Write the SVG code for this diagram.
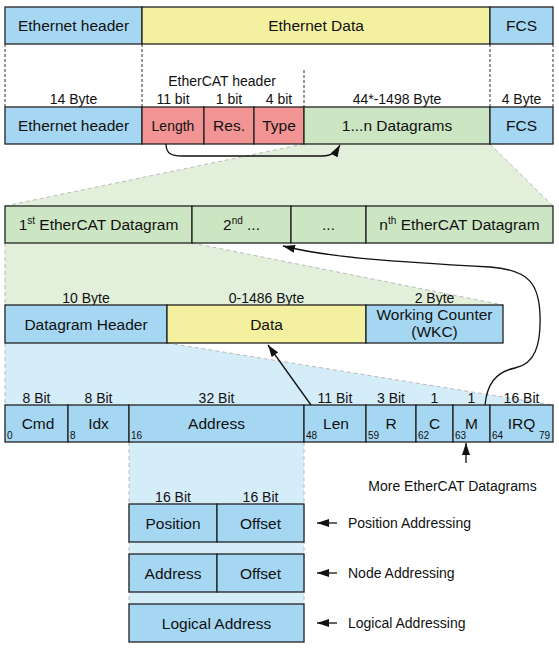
<svg xmlns="http://www.w3.org/2000/svg" width="559" height="653" viewBox="0 0 559 653">
<style>
text{font-family:"Liberation Sans",Arial,sans-serif;fill:#111;text-anchor:middle}
.b{fill:#a6d7f2;stroke:#222;stroke-width:1.3}
.y{fill:#f3f0a0;stroke:#222;stroke-width:1.3}
.p{fill:#f29494;stroke:#222;stroke-width:1.3}
.g{fill:#cce5c3;stroke:#222;stroke-width:1.3}
.t{font-size:15.5px}
.s{font-size:14px}
.n{font-size:10px;text-anchor:start}
.dd{stroke:#333;stroke-width:1;stroke-dasharray:3 2;fill:none}
.dl{stroke:#bbb;stroke-width:1;stroke-dasharray:4 3;fill:none}
.c{stroke:#111;stroke-width:1.3;fill:none}
</style>
<defs>
<marker id="ah" viewBox="0 0 12 8" refX="12" refY="4" markerWidth="12" markerHeight="8" markerUnits="userSpaceOnUse" orient="auto">
<path d="M0,0 L12,4 L0,8 Z" fill="#111"/>
</marker>
</defs>
<g id="backgrounds">
<polygon points="304,144 490,144 553,206 5,206" fill="#e2efda"/>
<polygon points="5,243 192,243 503,305 5,305" fill="#e2efda"/>
<polygon points="5,343 167,343 553,405 5,405" fill="#d5ecf9"/>
<rect x="129" y="442" width="175" height="162" fill="#d5ecf9"/>
<line class="dl" x1="304" y1="144" x2="5" y2="206"/>
<line class="dl" x1="490" y1="144" x2="553" y2="206"/>
<line class="dl" x1="5" y1="243" x2="5" y2="305"/>
<line class="dl" x1="192" y1="243" x2="503" y2="305"/>
<line class="dl" x1="5" y1="343" x2="5" y2="405"/>
<line class="dl" x1="167" y1="343" x2="553" y2="405"/>
<line class="dl" x1="129" y1="442" x2="129" y2="604"/>
<line class="dl" x1="304" y1="442" x2="304" y2="604"/>
<line class="dd" x1="5" y1="44" x2="5" y2="107"/>
<line class="dd" x1="142" y1="44" x2="142" y2="107"/>
<line class="dd" x1="490" y1="44" x2="490" y2="107"/>
<line class="dd" x1="553" y1="44" x2="553" y2="107"/>
<line class="dd" x1="304" y1="70" x2="304" y2="107"/>
</g>
<g id="frame">
<rect class="b" x="5" y="7" width="137" height="37"/><text class="t" x="73.5" y="31">Ethernet header</text>
<rect class="y" x="142" y="7" width="348" height="37"/><text class="t" x="316" y="31">Ethernet Data</text>
<rect class="b" x="490" y="7" width="63" height="37"/><text class="t" x="521.5" y="31">FCS</text>
</g>
<g id="ecat-frame">
<text class="s" x="222" y="86">EtherCAT header</text>
<text class="s" x="73.5" y="104">14 Byte</text>
<text class="s" x="173" y="104">11 bit</text>
<text class="s" x="229" y="104">1 bit</text>
<text class="s" x="279" y="104">4 bit</text>
<text class="s" x="397" y="104">44*-1498 Byte</text>
<text class="s" x="521.5" y="104">4 Byte</text>
<rect class="b" x="5" y="107" width="137" height="37"/><text class="t" x="73.5" y="131">Ethernet header</text>
<rect class="p" x="142" y="107" width="62" height="37"/><text x="173" y="131" font-size="14px">Length</text>
<rect class="p" x="204" y="107" width="50" height="37"/><text class="t" x="229" y="131">Res.</text>
<rect class="p" x="254" y="107" width="50" height="37"/><text class="t" x="279" y="131">Type</text>
<rect class="g" x="304" y="107" width="186" height="37"/><text class="t" x="397" y="131">1...n Datagrams</text>
<rect class="b" x="490" y="107" width="63" height="37"/><text class="t" x="521.5" y="131">FCS</text>
</g>
<g id="datagrams">
<rect class="g" x="5" y="206" width="187" height="37"/><text class="t" x="98.5" y="230">1<tspan font-size="10px" dy="-6">st</tspan><tspan dy="6"> EtherCAT Datagram</tspan></text>
<rect class="g" x="192" y="206" width="99" height="37"/><text class="t" x="241.5" y="230">2<tspan font-size="10px" dy="-6">nd</tspan><tspan dy="6"> ...</tspan></text>
<rect class="g" x="291" y="206" width="75" height="37"/><text class="t" x="328.5" y="230">...</text>
<rect class="g" x="366" y="206" width="187" height="37"/><text class="t" x="459.5" y="230">n<tspan font-size="10px" dy="-6">th</tspan><tspan dy="6"> EtherCAT Datagram</tspan></text>
</g>
<g id="datagram">
<text class="s" x="86" y="303">10 Byte</text>
<text class="s" x="266.5" y="303">0-1486 Byte</text>
<text class="s" x="434.5" y="303">2 Byte</text>
<rect class="b" x="5" y="305" width="162" height="38"/><text class="t" x="86" y="329.5">Datagram Header</text>
<rect class="y" x="167" y="305" width="199" height="38"/><text class="t" x="266.5" y="329.5">Data</text>
<rect class="b" x="366" y="305" width="137" height="38"/><text class="t" x="434.5" y="320">Working Counter</text><text class="t" x="434.5" y="337">(WKC)</text>
</g>
<g id="header-fields">
<text class="s" x="36.5" y="403">8 Bit</text>
<text class="s" x="98.5" y="403">8 Bit</text>
<text class="s" x="216.5" y="403">32 Bit</text>
<text class="s" x="335" y="403">11 Bit</text>
<text class="s" x="391" y="403">3 Bit</text>
<text class="s" x="434.5" y="403">1</text>
<text class="s" x="471.5" y="403">1</text>
<text class="s" x="521.5" y="403">16 Bit</text>
<rect class="b" x="5" y="405" width="63" height="37"/><text class="t" x="38" y="429">Cmd</text><text class="n" x="7" y="439">0</text>
<rect class="b" x="68" y="405" width="61" height="37"/><text class="t" x="98.5" y="429">Idx</text><text class="n" x="70" y="439">8</text>
<rect class="b" x="129" y="405" width="175" height="37"/><text class="t" x="216.5" y="429">Address</text><text class="n" x="131" y="439">16</text>
<rect class="b" x="304" y="405" width="62" height="37"/><text class="t" x="336" y="429">Len</text><text class="n" x="306" y="439">48</text>
<rect class="b" x="366" y="405" width="50" height="37"/><text class="t" x="391" y="429">R</text><text class="n" x="368" y="439">59</text>
<rect class="b" x="416" y="405" width="37" height="37"/><text class="t" x="434.5" y="429">C</text><text class="n" x="418" y="439">62</text>
<rect class="b" x="453" y="405" width="37" height="37"/><text class="t" x="471.5" y="429">M</text><text class="n" x="455" y="439">63</text>
<rect class="b" x="490" y="405" width="63" height="37"/><text class="t" x="521.5" y="429">IRQ</text><text class="n" x="492" y="439">64</text><text class="n" x="539" y="439">79</text>
<text class="s" x="452.5" y="491">More EtherCAT Datagrams</text>
</g>
<g id="addressing">
<text class="s" x="173" y="502">16 Bit</text>
<text class="s" x="260.5" y="502">16 Bit</text>
<rect class="b" x="129" y="504" width="88" height="38"/><text class="t" x="173" y="528.5">Position</text>
<rect class="b" x="217" y="504" width="87" height="38"/><text class="t" x="260.5" y="528.5">Offset</text>
<rect class="b" x="129" y="554" width="88" height="38"/><text class="t" x="173" y="578.5">Address</text>
<rect class="b" x="217" y="554" width="87" height="38"/><text class="t" x="260.5" y="578.5">Offset</text>
<rect class="b" x="129" y="604" width="175" height="38"/><text class="t" x="216.5" y="628.5">Logical Address</text>
<text class="s" x="348" y="528" style="text-anchor:start">Position Addressing</text>
<text class="s" x="348" y="578" style="text-anchor:start">Node Addressing</text>
<text class="s" x="348" y="628" style="text-anchor:start">Logical Addressing</text>
</g>
<g id="connectors">
<path class="c" d="M166,144 C166,154 172,156 182,156 L322,156 C332,156 336,152 340,145" marker-end="url(#ah)"/>
<line class="c" x1="311" y1="405" x2="268" y2="345" marker-end="url(#ah)"/>
<path class="c" d="M485,405 C487,385 495,372 515,368 C535,364 541,345 540,315 C539,285 530,270 490,267 C400,262 330,258 283,246" marker-end="url(#ah)"/>
<line class="c" x1="466" y1="463" x2="466" y2="443" marker-end="url(#ah)"/>
<line class="c" x1="337" y1="523" x2="317" y2="523" marker-end="url(#ah)"/>
<line class="c" x1="337" y1="573" x2="317" y2="573" marker-end="url(#ah)"/>
<line class="c" x1="337" y1="623" x2="317" y2="623" marker-end="url(#ah)"/>
</g>
</svg>
